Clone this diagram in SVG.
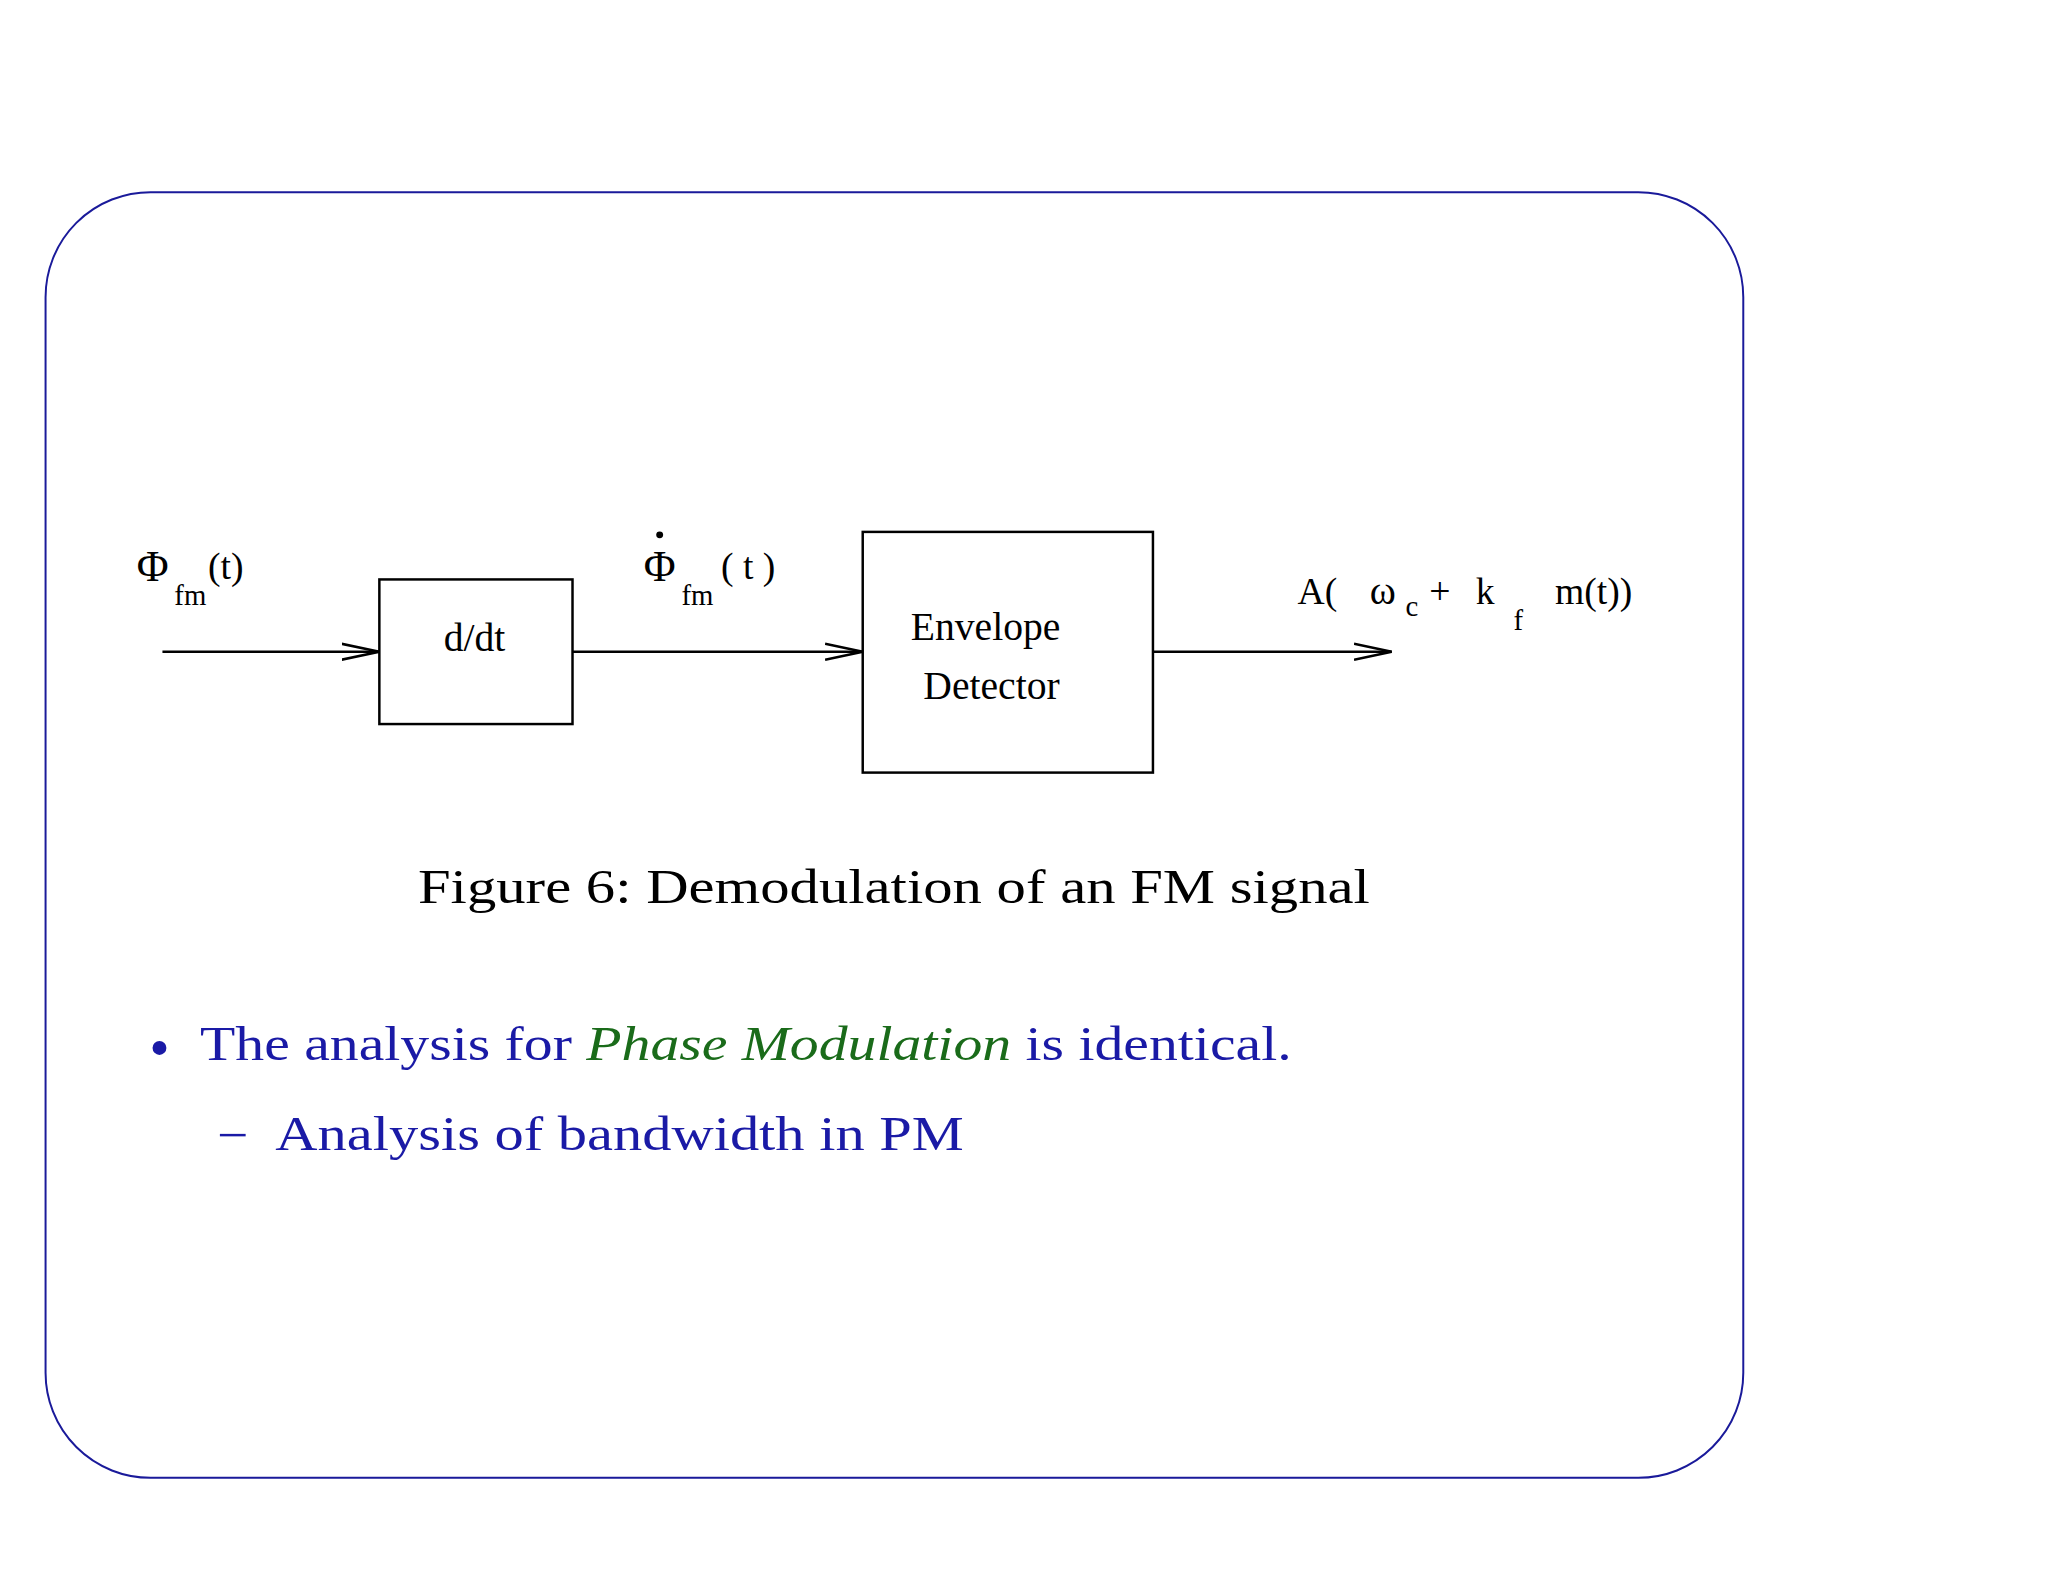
<svg xmlns="http://www.w3.org/2000/svg" width="2048" height="1582" viewBox="0 0 2048 1582">
<style>
.f{font-family:"Liberation Serif","Times New Roman",serif;fill:#000}
.b{font-family:"Liberation Serif","Times New Roman",serif;fill:#1a1aa6}
.box{fill:none;stroke:#000;stroke-width:2.5}
.ln{stroke:#000;stroke-width:2.5;fill:none}
</style>
<defs><marker id="ah" markerWidth="40" markerHeight="20" refX="38" refY="10" orient="auto" markerUnits="userSpaceOnUse"><path d="M0,2 L38,10 L0,18" fill="none" stroke="#000" stroke-width="2.5"/></marker></defs>
<rect width="2048" height="1582" fill="#fff"/>
<g transform="scale(0.9905)">
<rect x="46" y="194" width="1714" height="1298" rx="106" ry="106" fill="none" stroke="#1a1a9a" stroke-width="2"/>
<g id="ddt"><rect class="box" x="383" y="585" width="195" height="146"/><text class="f" x="479" y="657" font-size="40" text-anchor="middle">d/dt</text></g>
<g id="env"><rect class="box" x="871" y="537" width="293" height="243"/><text class="f" x="995" y="646" font-size="40" text-anchor="middle">Envelope</text><text class="f" x="1001" y="706" font-size="40" text-anchor="middle">Detector</text></g>
<g id="connectors">
<line class="ln" x1="164" y1="658" x2="383" y2="658" marker-end="url(#ah)"/>
<line class="ln" x1="578" y1="658" x2="871" y2="658" marker-end="url(#ah)"/>
<line class="ln" x1="1164" y1="658" x2="1405" y2="658" marker-end="url(#ah)"/>
</g>
<g id="labels">
<text class="f" x="138" y="587" font-size="44">Φ</text><text class="f" x="176" y="611" font-size="29">fm</text><text class="f" x="210" y="585" font-size="38">(t)</text>
<text class="f" x="650" y="587" font-size="44">Φ</text><circle cx="666" cy="540" r="3.5" fill="#000"/><text class="f" x="688" y="611" font-size="29">fm</text><text class="f" x="728" y="585" font-size="38">( t )</text>
<text class="f" x="1310" y="610" font-size="38">A(</text><text class="f" x="1383" y="610" font-size="40">ω</text><text class="f" x="1419" y="622" font-size="29">c</text><text class="f" x="1443" y="610" font-size="38">+</text><text class="f" x="1490" y="610" font-size="38">k</text><text class="f" x="1528" y="636" font-size="29">f</text><text class="f" x="1570" y="610" font-size="38">m(t))</text>
</g>
<text class="f" x="422" y="912" font-size="48" textLength="961" lengthAdjust="spacingAndGlyphs">Figure 6: Demodulation of an FM signal</text>
<circle cx="161" cy="1058" r="7" fill="#1a1aa6"/>
<text class="b" x="202" y="1070" font-size="50" textLength="1102" lengthAdjust="spacingAndGlyphs">The analysis for <tspan fill="#1a6b1a" font-style="italic">Phase Modulation</tspan> is identical.</text>
<line x1="222" y1="1146" x2="248" y2="1146" stroke="#1a1aa6" stroke-width="2.5"/>
<text class="b" x="278" y="1161" font-size="50" textLength="695" lengthAdjust="spacingAndGlyphs">Analysis of bandwidth in PM</text>
</g>
</svg>
